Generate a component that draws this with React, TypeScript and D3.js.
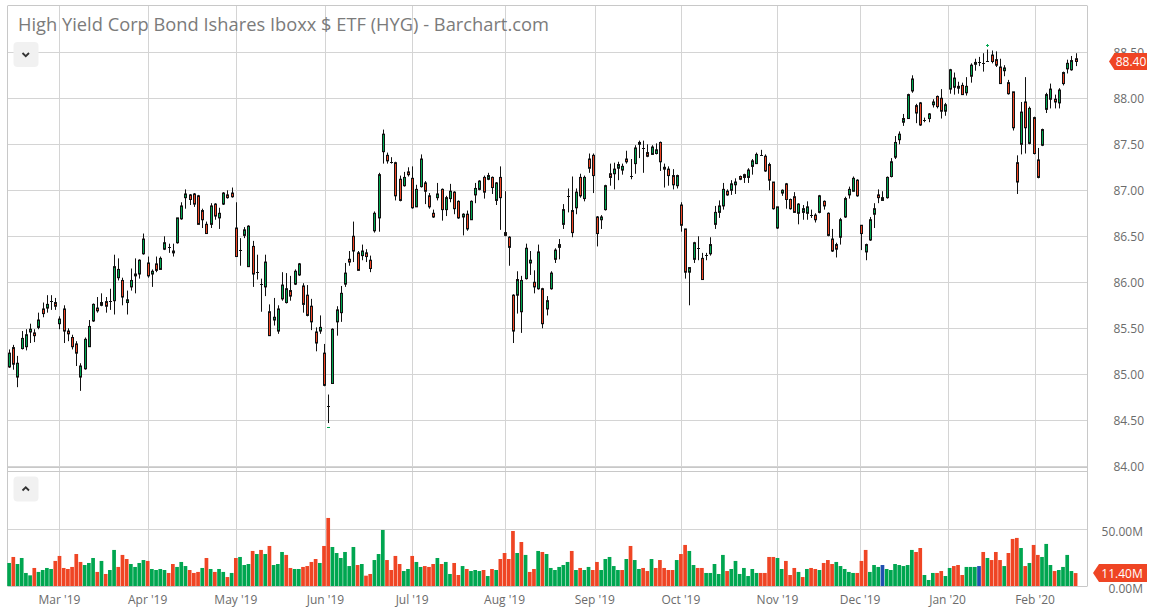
import React from "react";
import * as d3 from "d3";

const TITLE = "High Yield Corp Bond Ishares Iboxx $ ETF (HYG) - Barchart.com";
const FIRST_DAY = "2019-02-12";
const LAST_DAY = "2020-02-14";
const HOLIDAYS = ["2019-02-18", "2019-04-19", "2019-05-27", "2019-07-04", "2019-09-02", "2019-11-28", "2019-12-25", "2020-01-01", "2020-01-20"];

const OPEN = [
  85.08,85.29,84.97,85.28,85.30,85.46,85.45,85.51,85.71,85.72,
  85.80,85.78,85.55,85.71,85.47,85.40,85.33,84.97,85.06,85.30,
  85.58,85.72,85.75,85.79,85.80,85.80,86.05,86.02,85.78,85.95,
  86.07,86.09,86.31,86.21,86.09,86.20,86.14,86.36,86.38,86.32,
  86.43,86.69,86.92,86.95,86.96,86.94,86.78,86.63,86.63,86.85,
  86.70,86.85,86.95,86.97,86.59,86.35,86.51,86.17,86.39,86.11,
  85.98,85.95,85.68,85.59,85.47,85.82,85.78,85.91,85.98,86.08,
  85.96,85.86,85.74,85.46,85.47,85.23,84.65,84.90,85.57,85.67,
  85.98,86.25,86.50,86.32,86.29,86.32,86.24,86.56,86.70,87.42,
  87.38,87.31,87.30,87.12,87.05,87.20,87.13,86.82,87.04,87.08,
  86.94,86.75,86.92,87.01,86.79,86.91,86.98,86.88,86.71,86.74,
  86.68,86.95,87.01,87.14,87.12,87.14,86.89,87.14,86.54,86.49,
  85.86,85.86,85.68,86.04,86.21,86.00,85.93,85.93,85.71,85.93,
  86.25,86.38,86.63,86.94,86.78,86.81,87.14,86.91,87.34,87.38,
  86.71,86.68,86.79,87.18,87.18,87.24,87.22,87.34,87.16,87.29,
  87.50,87.46,87.41,87.39,87.40,87.52,87.25,87.23,87.16,87.05,
  86.84,86.58,86.11,86.25,86.37,86.26,86.30,86.31,86.63,86.76,
  86.83,86.99,87.00,87.06,87.15,87.17,87.14,87.26,87.29,87.38,
  87.37,87.28,87.09,86.59,86.97,87.07,86.90,86.93,86.75,86.76,
  86.75,86.73,86.73,86.76,86.88,86.75,86.47,86.41,86.49,86.71,
  86.95,86.99,87.11,86.62,86.33,86.46,86.74,86.95,86.89,86.92,
  87.15,87.36,87.55,87.74,87.78,88.08,87.92,87.95,87.76,87.78,
  87.93,88.02,88.00,87.86,88.10,88.12,88.11,88.14,88.06,88.24,
  88.37,88.39,88.38,88.40,88.47,88.42,88.34,88.30,88.17,88.07,
  87.30,87.50,87.96,87.51,87.79,87.33,87.49,87.88,87.99,87.99,
  87.95,88.28,88.32,88.31,88.43,
];

const HIGH = [
  85.27,85.32,85.20,85.47,85.49,85.55,85.49,85.67,85.78,85.86,
  85.86,85.83,85.63,85.75,85.50,85.43,85.36,85.12,85.40,85.59,
  85.77,85.84,85.88,85.84,85.93,86.30,86.26,86.05,85.91,86.15,
  86.26,86.25,86.53,86.28,86.14,86.28,86.28,86.50,86.42,86.42,
  86.70,86.87,87.01,86.96,86.97,86.95,86.80,86.66,86.86,86.86,
  86.81,86.98,87.00,87.03,86.87,86.48,86.60,86.62,86.45,86.30,
  86.04,86.30,85.76,85.83,85.75,86.11,86.10,86.07,86.14,86.21,
  85.99,85.97,85.82,85.51,85.64,85.33,84.78,85.50,85.74,85.96,
  86.21,86.34,86.66,86.34,86.41,86.36,86.29,86.77,87.19,87.66,
  87.41,87.36,87.31,87.16,87.20,87.25,87.26,87.06,87.39,87.10,
  86.97,86.79,87.08,87.02,86.94,87.07,86.99,86.89,86.75,86.78,
  86.89,87.08,87.11,87.16,87.19,87.15,87.09,87.26,86.99,86.50,
  85.87,86.12,86.07,86.42,86.34,86.13,86.41,85.94,85.85,86.12,
  86.37,86.47,86.85,87.02,87.15,87.02,87.18,87.16,87.40,87.40,
  86.72,86.73,87.06,87.29,87.30,87.31,87.29,87.43,87.34,87.49,
  87.54,87.54,87.50,87.49,87.51,87.53,87.29,87.26,87.23,87.17,
  86.87,86.58,86.16,86.44,86.50,86.32,86.32,86.49,86.83,86.89,
  87.08,87.01,87.11,87.13,87.16,87.18,87.24,87.34,87.41,87.44,
  87.39,87.30,87.09,86.82,87.01,87.08,86.91,86.98,86.86,86.84,
  86.88,86.79,86.75,86.95,86.89,86.76,86.58,86.43,86.70,86.93,
  87.04,87.15,87.12,86.62,86.42,86.71,86.86,87.01,86.99,87.15,
  87.35,87.59,87.64,87.83,88.05,88.25,87.94,87.96,87.79,87.84,
  87.99,88.03,88.10,87.95,88.32,88.28,88.18,88.17,88.23,88.38,
  88.43,88.45,88.49,88.53,88.52,88.51,88.43,88.36,88.20,88.07,
  87.38,87.96,88.23,87.91,87.80,87.46,87.67,88.06,88.16,88.04,
  88.11,88.29,88.42,88.46,88.49,
];

const LOW = [
  85.07,85.05,84.86,85.27,85.26,85.34,85.35,85.49,85.62,85.67,
  85.70,85.70,85.49,85.34,85.36,85.27,85.09,84.82,85.05,85.30,
  85.57,85.67,85.74,85.67,85.70,85.65,86.02,85.75,85.65,85.91,
  85.88,86.04,86.30,86.05,85.95,86.11,86.14,86.35,86.32,86.28,
  86.42,86.68,86.80,86.84,86.82,86.63,86.59,86.53,86.59,86.68,
  86.58,86.84,86.91,86.92,86.28,86.18,86.48,86.17,85.95,86.03,
  85.68,85.85,85.42,85.53,85.44,85.80,85.77,85.80,85.97,86.07,
  85.67,85.63,85.48,85.25,85.44,84.87,84.47,84.90,85.42,85.57,
  85.95,86.18,86.22,86.13,86.24,86.22,86.11,86.54,86.55,87.29,
  87.29,87.29,86.89,86.88,87.04,87.15,86.80,86.82,87.03,86.85,
  86.80,86.70,86.89,86.67,86.72,86.87,86.74,86.69,86.51,86.56,
  86.68,86.86,87.00,86.91,87.11,86.96,86.84,86.57,86.50,86.18,
  85.34,85.66,85.45,86.03,86.08,85.88,85.92,85.50,85.64,85.92,
  86.21,86.25,86.58,86.76,86.49,86.74,86.92,86.88,87.19,86.97,
  86.39,86.58,86.78,87.05,87.01,87.11,87.17,87.29,87.12,87.18,
  87.35,87.19,87.36,87.39,87.39,87.21,87.03,87.05,87.01,87.02,
  86.55,86.04,85.75,86.21,86.24,86.03,86.24,86.29,86.58,86.70,
  86.79,86.94,86.95,86.96,87.11,87.08,87.08,87.17,87.29,87.38,
  87.20,87.00,86.79,86.58,86.94,86.80,86.79,86.76,86.63,86.68,
  86.68,86.70,86.65,86.75,86.79,86.50,86.33,86.27,86.41,86.70,
  86.91,86.99,86.93,86.35,86.24,86.45,86.59,86.86,86.89,86.91,
  87.14,87.34,87.50,87.70,87.78,88.06,87.73,87.70,87.74,87.74,
  87.90,87.89,87.78,87.81,88.05,88.04,88.05,88.04,88.03,88.17,
  88.30,88.35,88.29,88.40,88.38,88.34,88.16,88.24,88.04,87.65,
  86.96,87.39,87.40,87.50,87.39,87.13,87.48,87.84,87.89,87.89,
  87.89,88.14,88.27,88.30,88.35,
];

const CLOSE = [
  85.23,85.11,85.12,85.39,85.43,85.49,85.42,85.59,85.66,85.76,
  85.80,85.74,85.60,85.47,85.44,85.30,85.23,85.09,85.38,85.52,
  85.76,85.69,85.78,85.74,85.80,86.17,86.14,85.84,85.81,86.02,
  86.09,86.24,86.47,86.07,86.12,86.13,86.26,86.43,86.38,86.34,
  86.70,86.83,86.96,86.90,86.85,86.63,86.68,86.53,86.83,86.72,
  86.75,86.97,86.92,86.93,86.28,86.35,86.57,86.61,86.09,86.11,
  85.98,86.22,85.42,85.62,85.71,85.97,85.93,85.85,86.12,86.20,
  85.76,85.64,85.57,85.34,85.51,84.88,84.65,85.49,85.70,85.88,
  86.10,86.22,86.34,86.13,86.34,86.28,86.15,86.75,87.17,87.61,
  87.32,87.31,86.94,86.89,87.14,87.17,86.81,87.01,87.34,86.99,
  86.82,86.71,86.96,86.79,86.92,86.99,86.80,86.70,86.74,86.58,
  86.88,87.02,87.10,86.98,87.16,87.03,87.08,86.92,86.51,86.38,
  85.47,86.03,86.02,86.37,86.24,85.95,86.33,85.55,85.80,86.10,
  86.35,86.41,86.79,86.94,86.54,86.98,86.94,87.14,87.24,87.16,
  86.53,86.71,87.05,87.14,87.23,87.28,87.26,87.31,87.16,87.46,
  87.52,87.46,87.37,87.47,87.44,87.31,87.23,87.16,87.06,87.16,
  86.62,86.11,86.16,86.43,86.37,86.03,86.30,86.41,86.76,86.83,
  87.01,86.95,87.07,87.09,87.12,87.14,87.22,87.32,87.39,87.38,
  87.21,87.11,86.80,86.82,87.00,86.90,86.80,86.76,86.85,86.80,
  86.82,86.73,86.68,86.94,86.83,86.51,86.34,86.36,86.68,86.91,
  87.01,87.13,86.94,86.53,86.41,86.68,86.80,86.92,86.92,87.14,
  87.31,87.52,87.61,87.78,88.04,88.21,87.84,87.71,87.76,87.83,
  87.96,87.91,87.86,87.93,88.31,88.22,88.13,88.04,88.13,88.36,
  88.39,88.39,88.38,88.41,88.40,88.36,88.16,88.33,88.05,87.68,
  87.09,87.85,87.68,87.89,87.40,87.14,87.66,88.04,88.10,87.96,
  88.09,88.16,88.38,88.41,88.40,
];

// volume in millions of shares
const VOLUME = [
  20.3,25.6,19.4,24.7,11.5,9.4,15.9,12.4,14.1,15.9,
  15.0,22.1,26.5,15.9,15.0,16.8,28.2,21.2,18.5,20.3,
  24.7,12.4,22.1,10.6,14.1,31.8,16.8,27.4,23.8,19.4,
  16.8,20.3,22.9,22.1,15.0,14.1,15.0,14.1,11.5,19.4,
  16.8,21.2,17.6,14.1,11.5,12.4,15.9,24.7,15.0,12.4,
  15.0,12.4,7.9,11.5,24.7,25.6,18.5,19.4,30.9,28.2,
  31.8,28.2,35.3,18.5,19.4,30.0,27.4,15.9,15.0,15.0,
  16.8,17.6,21.2,23.8,20.3,35.3,60.0,34.4,29.1,24.7,
  30.0,17.6,34.4,18.5,19.4,9.1,10.6,22.9,28.2,49.4,
  22.9,14.1,26.5,19.4,13.2,15.0,26.5,21.2,16.8,17.6,
  16.8,19.4,24.7,19.4,21.2,10.6,20.3,9.7,17.6,15.0,
  13.2,14.1,13.2,14.1,8.8,15.0,14.1,23.8,29.1,23.8,
  48.5,29.1,38.8,27.4,12.4,15.0,30.9,30.0,28.2,15.9,
  14.1,16.8,18.5,21.2,30.9,14.1,15.9,14.1,16.8,14.1,
  21.2,14.1,23.8,25.6,17.6,14.1,14.1,23.8,35.3,22.9,
  15.0,15.9,13.2,23.8,15.9,22.9,15.9,14.1,14.1,22.9,
  28.2,36.2,30.9,18.5,15.9,15.9,11.5,11.5,19.4,10.6,
  27.4,13.2,15.0,22.1,10.6,15.9,8.8,15.0,11.5,11.5,
  11.5,25.6,25.6,24.7,15.0,22.1,9.7,15.9,12.4,7.9,
  15.0,15.9,15.0,14.1,20.3,22.9,19.4,21.2,17.6,15.0,
  12.4,11.5,11.5,22.1,31.8,12.4,18.5,16.8,18.5,15.0,
  14.1,19.4,18.5,17.6,18.5,31.8,30.0,33.5,9.7,5.3,
  11.5,11.5,13.2,8.8,15.9,17.6,18.5,9.7,16.8,16.8,
  16.8,17.6,30.0,24.7,22.9,30.0,22.9,17.6,29.1,41.5,
  42.4,33.5,17.6,20.3,36.2,27.4,25.6,37.1,18.5,13.2,
  14.1,16.8,27.4,13.2,11.4,
];

const PRICE_TICKS = [84, 84.5, 85, 85.5, 86, 86.5, 87, 87.5, 88, 88.5];
const VOLUME_TICKS = [0, 50];
const MONTH_STARTS = ["2019-03-01","2019-04-01","2019-05-01","2019-06-01","2019-07-01","2019-08-01","2019-09-01","2019-10-01","2019-11-01","2019-12-01","2020-01-01","2020-02-01"];

const GREEN = "#00a650";
const RED = "#ef4524";
const BLUE = "#1f4fb0";
const GRID = "#d4d4d4";
const BORDER = "#c8c8c8";
const TEXT = "#6b6b6b";
const FONT = "'Open Sans', 'Noto Sans', sans-serif";

function tradingDays(first: string, last: string, holidays: string[]): Date[] {
  const out: Date[] = [];
  const hs = new Set(holidays);
  const d = new Date(first + "T00:00:00Z");
  const e = new Date(last + "T00:00:00Z");
  while (d <= e) {
    const dow = d.getUTCDay();
    const iso = d.toISOString().slice(0, 10);
    if (dow !== 0 && dow !== 6 && !hs.has(iso)) out.push(new Date(d.getTime()));
    d.setUTCDate(d.getUTCDate() + 1);
  }
  return out;
}

const L = 8, R = 1087, TOP = 5.5, PRICE_BOT = 467.5, VOL_TOP = 471.5, VOL_BASE = 586;

export default function App() {
  const dates = tradingDays(FIRST_DAY, LAST_DAY, HOLIDAYS);
  const n = CLOSE.length;
  const x = d3.scaleLinear().domain([0, n - 1]).range([9.1, 1075.6]);
  const y = d3.scaleLinear().domain([84, 89]).range([466.3, 6.3]);
  const yv = d3.scaleLinear().domain([0, 50]).range([VOL_BASE, 529.3]);
  const fmtMonth = d3.utcFormat("%b '%y");

  const monthX = (iso: string) => {
    const t = new Date(iso + "T00:00:00Z").getTime();
    let j = 0;
    while (j < dates.length - 1 && dates[j + 1].getTime() <= t) j++;
    const tj = dates[j].getTime();
    if (tj === t || j === dates.length - 1) return x(j);
    const frac = (t - tj) / (dates[j + 1].getTime() - tj);
    return x(j + frac);
  };

  const crisp = (v: number) => Math.round(v) + 0.5;
  const hiIdx = d3.maxIndex(HIGH);
  const loIdx = d3.minIndex(LOW);
  const last = n - 1;

  const volColor = (i: number) => {
    const prev = i === 0 ? OPEN[0] : CLOSE[i - 1];
    if (CLOSE[i] > prev) return GREEN;
    if (CLOSE[i] < prev) return RED;
    return BLUE;
  };

  const lastPriceY = y(CLOSE[last]);
  const lastVolY = 573;

  return (
    <svg width={1157} height={607} style={{ position: "absolute", left: 0, top: 0, display: "block", background: "#fff" }} fontFamily={FONT}>
      {PRICE_TICKS.map((p) => (
        <line key={"pg" + p} x1={L} x2={R} y1={crisp(y(p))} y2={crisp(y(p))} stroke={GRID} strokeWidth={1} />
      ))}
      {VOLUME_TICKS.filter((v) => v > 0).map((v) => (
        <line key={"vg" + v} x1={L} x2={R} y1={crisp(yv(v))} y2={crisp(yv(v))} stroke={GRID} strokeWidth={1} />
      ))}
      {MONTH_STARTS.map((m) => {
        const mx = crisp(monthX(m));
        return <line key={"mg" + m} x1={mx} x2={mx} y1={TOP} y2={VOL_BASE} stroke={GRID} strokeWidth={1} />;
      })}
      <line x1={L} x2={R} y1={TOP} y2={TOP} stroke={BORDER} />
      <line x1={L} x2={R} y1={PRICE_BOT} y2={PRICE_BOT} stroke={BORDER} />
      <line x1={L} x2={R} y1={VOL_TOP} y2={VOL_TOP} stroke={BORDER} />
      <line x1={L} x2={R} y1={VOL_BASE + 0.5} y2={VOL_BASE + 0.5} stroke={BORDER} />
      <line x1={L - 0.5} x2={L - 0.5} y1={TOP} y2={VOL_BASE + 0.5} stroke={BORDER} />
      <line x1={R + 0.5} x2={R + 0.5} y1={TOP} y2={VOL_BASE + 0.5} stroke={BORDER} />

      {VOLUME.map((v, i) => {
        const top = yv(v);
        return (
          <rect key={"v" + i} x={x(i) - 1.85} width={3.7} y={top} height={VOL_BASE - top} fill={volColor(i)} />
        );
      })}

      {CLOSE.map((c, i) => {
        const cx = Math.round(x(i));
        const o = OPEN[i];
        const yo = y(o), yc = y(c);
        const yh = y(HIGH[i]), yl = y(LOW[i]);
        const top = Math.min(yo, yc), bot = Math.max(yo, yc);
        const up = c >= o;
        return (
          <g key={"c" + i}>
            <line x1={cx + 0.5} x2={cx + 0.5} y1={yh} y2={yl} stroke="#111" strokeWidth={1} />
            {bot - top < 1.2 ? (
              <line x1={cx - 1} x2={cx + 2} y1={Math.round(top) + 0.5} y2={Math.round(top) + 0.5} stroke="#111" strokeWidth={1} />
            ) : (
              <rect x={cx - 0.5} width={2} y={top} height={bot - top} fill={up ? GREEN : RED} stroke="#111" strokeWidth={1} />
            )}
          </g>
        );
      })}

      <g stroke={GREEN} strokeWidth={1}>
        <line x1={Math.round(x(hiIdx)) - 1} x2={Math.round(x(hiIdx)) + 2} y1={Math.round(y(HIGH[hiIdx])) - 4.5} y2={Math.round(y(HIGH[hiIdx])) - 4.5} />
        <line x1={Math.round(x(hiIdx)) + 0.5} x2={Math.round(x(hiIdx)) + 0.5} y1={Math.round(y(HIGH[hiIdx])) - 6} y2={Math.round(y(HIGH[hiIdx])) - 3} />
        <line x1={Math.round(x(loIdx)) - 1} x2={Math.round(x(loIdx)) + 2} y1={Math.round(y(LOW[loIdx])) + 4.5} y2={Math.round(y(LOW[loIdx])) + 4.5} />
      </g>

      <text x={18} y={30.5} fontSize={18.3} fill="#7b7b7b">{TITLE}</text>

      <rect x={13.5} y={42} width={25} height={25} rx={4} fill="#f1f1f1" />
      <path d="M22.5 53 L25.75 56.25 L29 53" fill="none" stroke="#333" strokeWidth={1.8} />
      <rect x={13.5} y={476.5} width={25} height={25} rx={4} fill="#f1f1f1" />
      <path d="M22.5 490.5 L25.75 487.25 L29 490.5" fill="none" stroke="#333" strokeWidth={1.8} />

      {PRICE_TICKS.map((p) => (
        <text key={"pl" + p} x={1144} y={y(p) + 5} fontSize={12} fill={TEXT} textAnchor="end">{p.toFixed(2)}</text>
      ))}
      {VOLUME_TICKS.map((v) => (
        <text key={"vl" + v} x={1143} y={yv(v) + (v === 0 ? 7 : 6.5)} fontSize={12} fill={TEXT} textAnchor="end">{v.toFixed(2) + "M"}</text>
      ))}

      <path d={`M1109 ${lastPriceY} L1114.5 ${lastPriceY - 8.5} L1147 ${lastPriceY - 8.5} L1147 ${lastPriceY + 8.5} L1114.5 ${lastPriceY + 8.5} Z`} fill={RED} />
      <text x={1131} y={lastPriceY + 4.5} fontSize={12} fill="#fff" textAnchor="middle">{CLOSE[last].toFixed(2)}</text>

      <path d={`M1093 ${lastVolY} L1099 ${lastVolY - 9} L1147 ${lastVolY - 9} L1147 ${lastVolY + 9} L1099 ${lastVolY + 9} Z`} fill={RED} />
      <text x={1122} y={lastVolY + 4.5} fontSize={12} fill="#fff" textAnchor="middle">{VOLUME[last].toFixed(2) + "M"}</text>

      {MONTH_STARTS.map((m) => (
        <text key={"ml" + m} x={monthX(m)} y={604} fontSize={12} fill={TEXT} textAnchor="middle">{fmtMonth(new Date(m + "T00:00:00Z"))}</text>
      ))}
    </svg>
  );
}
